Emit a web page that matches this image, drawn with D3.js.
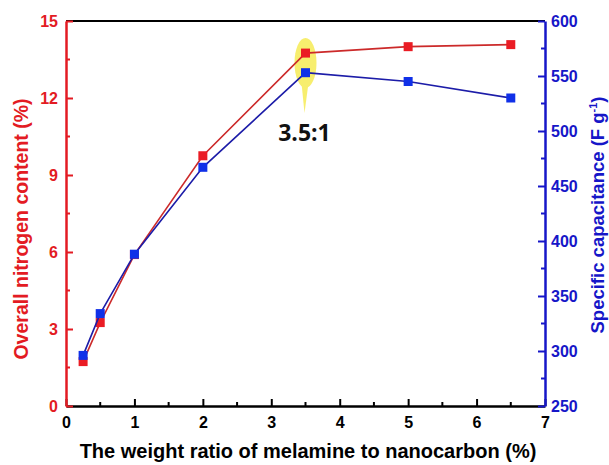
<!DOCTYPE html>
<html>
<head>
<meta charset="utf-8">
<script src="https://cdn.jsdelivr.net/npm/d3@7"></script>
<style>
  body { margin: 0; background: #fff; }
  text { font-family: "Liberation Sans", Arial, sans-serif; font-weight: bold; }
</style>
</head>
<body>
<svg id="chart" width="609" height="465"></svg>
<script>
"use strict";
// data
var ratios = [ 0.25, 0.5, 1, 2, 3.5, 5, 6.5 ];
var nitrogen = [ 1.73, 3.25, 5.9, 9.75, 13.75, 14.0, 14.08 ];
var capacitance = [ 296, 334, 388, 467, 553, 545, 530 ];
var xTicks = [ 0, 1, 2, 3, 4, 5, 6, 7 ];
var leftTicks = [ 0, 3, 6, 9, 12, 15 ];
var rightTicks = [ 250, 300, 350, 400, 450, 500, 550, 600 ];
var peakLabel = "3.5:1";

var RED = "#e31b23", BLUE = "#1616c8";
var svg = d3.select( "#chart" );
var m = { left: 66, right: 545, top: 21, bottom: 406 };

var x = d3.scaleLinear().domain( [ 0, 7 ] ).range( [ m.left, m.right ] );
var yL = d3.scaleLinear().domain( [ 0, 15 ] ).range( [ m.bottom, m.top ] );
var yR = d3.scaleLinear().domain( [ 250, 600 ] ).range( [ m.bottom, m.top ] );

// highlight behind the peak point
var px = x( 3.5 ), py = ( yL( nitrogen[4] ) + yR( capacitance[4] ) ) / 2;
svg.append( "path" )
   .attr( "d", "M" + ( px - 4 ) + "," + ( py + 20 ) + "L" + ( px - 1 ) + "," + ( py + 50 ) + "L" + ( px + 3 ) + "," + ( py + 20 ) + "Z" )
   .attr( "fill", "#f7ee6e" );
svg.append( "ellipse" )
   .attr( "cx", px ).attr( "cy", py )
   .attr( "rx", 11 ).attr( "ry", 25 )
   .attr( "fill", "#f7ee6e" );

// frame
svg.append( "line" ).attr( "x1", m.left ).attr( "x2", m.right ).attr( "y1", m.top ).attr( "y2", m.top )
   .attr( "stroke", "#000" ).attr( "stroke-width", 2 );

function axisStyle( g, color ) {
  g.select( ".domain" ).attr( "stroke", color ).attr( "stroke-width", 2.5 );
  g.selectAll( ".tick line" ).attr( "stroke", color ).attr( "stroke-width", 2 );
  g.selectAll( "text" ).attr( "fill", color ).attr( "font-size", 16 );
}

function minor( g, scale, vals, orient, len, color ) {
  vals.forEach( function( v ) {
    var p = scale( v );
    var l = g.append( "line" ).attr( "stroke", color ).attr( "stroke-width", 2 );
    if ( orient === "x" ) {
      l.attr( "x1", p ).attr( "x2", p ).attr( "y1", m.bottom ).attr( "y2", m.bottom - len );
    } else if ( orient === "l" ) {
      l.attr( "y1", p ).attr( "y2", p ).attr( "x1", m.left ).attr( "x2", m.left + len );
    } else {
      l.attr( "y1", p ).attr( "y2", p ).attr( "x1", m.right ).attr( "x2", m.right - len );
    }
  } );
}

// bottom axis
var gx = svg.append( "g" ).attr( "transform", "translate(0," + m.bottom + ")" )
  .call( d3.axisBottom( x ).tickValues( xTicks ).tickFormat( d3.format( "d" ) )
           .tickSizeInner( -7 ).tickSizeOuter( 0 ).tickPadding( 11 ) );
axisStyle( gx, "#000" );
gx.selectAll( "text" ).attr( "dy", "0.71em" );
minor( svg, x, [ 0.5, 1.5, 2.5, 3.5, 4.5, 5.5, 6.5 ], "x", 4, "#000" );

// left axis
var gl = svg.append( "g" ).attr( "transform", "translate(" + m.left + ",0)" )
  .call( d3.axisLeft( yL ).tickValues( leftTicks ).tickSizeInner( -7 ).tickSizeOuter( 0 ).tickPadding( 8 ) );
axisStyle( gl, RED );
minor( svg, yL, [ 1.5, 4.5, 7.5, 10.5, 13.5 ], "l", 4, RED );

// right axis
var gr = svg.append( "g" ).attr( "transform", "translate(" + m.right + ",0)" )
  .call( d3.axisRight( yR ).tickValues( rightTicks ).tickSizeInner( -7 ).tickSizeOuter( 0 ).tickPadding( 6 ) );
axisStyle( gr, BLUE );
minor( svg, yR, [ 275, 325, 375, 425, 475, 525, 575 ], "r", 4, BLUE );

// series
var redPts = ratios.map( function( r, i ) { return [ x( r ), yL( nitrogen[i] ) ]; } );
var bluePts = ratios.map( function( r, i ) { return [ x( r ), yR( capacitance[i] ) ]; } );

function series( pts, lineColor, markColor ) {
  svg.append( "path" ).attr( "d", d3.line()( pts ) )
     .attr( "fill", "none" ).attr( "stroke", lineColor ).attr( "stroke-width", 1.6 );
  svg.append( "g" ).selectAll( "rect" ).data( pts ).enter().append( "rect" )
     .attr( "x", function( d ) { return d[0] - 4.5; } )
     .attr( "y", function( d ) { return d[1] - 4.5; } )
     .attr( "width", 9 ).attr( "height", 9 )
     .attr( "fill", markColor );
}
series( redPts, "#cc2a2a", "#ea1c24" );
series( bluePts, "#1c1ca8", "#1030e8" );

// annotation
svg.append( "text" ).attr( "x", px - 1 ).attr( "y", 141 )
   .attr( "text-anchor", "middle" ).attr( "font-size", 23 )
   .style( "font-family", "'Open Sans', sans-serif" )
   .attr( "fill", "#111" ).text( peakLabel );

// axis titles
svg.append( "text" ).attr( "x", 308 ).attr( "y", 458 )
   .attr( "text-anchor", "middle" ).attr( "font-size", 20 ).attr( "fill", "#000" )
   .text( "The weight ratio of melamine to nanocarbon (%)" );

svg.append( "text" )
   .attr( "transform", "translate(28,229) rotate(-90)" )
   .attr( "text-anchor", "middle" ).attr( "font-size", 19.5 ).attr( "fill", RED )
   .text( "Overall nitrogen content (%)" );

var rt = svg.append( "text" )
   .attr( "transform", "translate(604,215) rotate(-90)" )
   .attr( "text-anchor", "middle" ).attr( "font-size", 18.5 ).attr( "fill", BLUE );
rt.append( "tspan" ).text( "Specific capacitance (F g" );
rt.append( "tspan" ).attr( "dy", -7 ).attr( "font-size", 11 ).text( "-1" );
rt.append( "tspan" ).attr( "dy", 7 ).text( ")" );
</script>
</body>
</html>
